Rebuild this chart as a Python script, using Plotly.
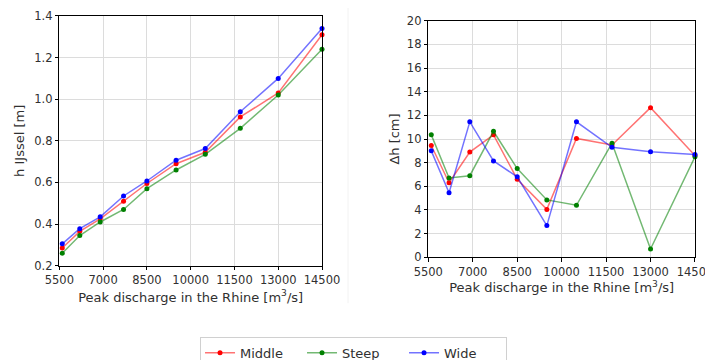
import plotly.graph_objects as go

discharge = [5600, 6200, 6900, 7700, 8500, 9500, 10500, 11700, 13000, 14500]

h_middle = [0.285, 0.365, 0.425, 0.51, 0.595, 0.69, 0.745, 0.915, 1.03, 1.31]
h_steep = [0.26, 0.345, 0.41, 0.47, 0.57, 0.66, 0.735, 0.86, 1.02, 1.24]
h_wide = [0.305, 0.378, 0.435, 0.535, 0.607, 0.707, 0.763, 0.94, 1.10, 1.34]

dh_middle = [9.45, 6.3, 8.9, 10.35, 6.6, 4.05, 10.05, 9.5, 12.65, 8.6]
dh_steep = [10.35, 6.7, 6.9, 10.65, 7.5, 4.85, 4.4, 9.65, 0.7, 8.5]
dh_wide = [9.0, 5.45, 11.45, 8.15, 6.8, 2.68, 11.45, 9.3, 8.92, 8.7]

x_ticks = [5500, 7000, 8500, 10000, 11500, 13000, 14500]
x_ticktext = ["5500", "7000", "8500", "10000", "11500", "13000", "14500"]
series_names = ["Middle", "Steep", "Wide"]
line_colors = ["rgba(255,0,0,0.55)", "rgba(0,128,0,0.55)", "rgba(0,0,255,0.55)"]
marker_colors = ["#ff0000", "#008000", "#0000ff"]

FONT = "DejaVu Sans"
TXT = "#303030"

fig = go.Figure()
left = [h_middle, h_steep, h_wide]
right = [dh_middle, dh_steep, dh_wide]
for i, name in enumerate(series_names):
    fig.add_trace(go.Scatter(
        x=discharge, y=left[i], name=name, mode="lines+markers",
        line=dict(color=line_colors[i], width=1.5),
        marker=dict(color=marker_colors[i], size=5),
        xaxis="x", yaxis="y", legendgroup=name, cliponaxis=False))
for i, name in enumerate(series_names):
    fig.add_trace(go.Scatter(
        x=discharge, y=right[i], name=name, mode="lines+markers",
        line=dict(color=line_colors[i], width=1.5),
        marker=dict(color=marker_colors[i], size=5),
        xaxis="x2", yaxis="y2", legendgroup=name, showlegend=False, cliponaxis=False))

axis_common = dict(
    showline=True, linecolor="#000000", linewidth=1, mirror=True,
    showgrid=True, gridcolor="#dcdcdc", gridwidth=1,
    ticks="outside", ticklen=3.5, tickcolor="#000000",
    zeroline=False, automargin=False,
    tickfont=dict(family=FONT, size=11.5, color=TXT),
)
xtitle = "Peak discharge in the Rhine [m<sup>3</sup>/s]"
tfont = dict(family=FONT, size=13, color=TXT)

fig.update_layout(
    width=713, height=360,
    margin=dict(l=0, r=0, t=0, b=0, autoexpand=False),
    paper_bgcolor="white", plot_bgcolor="white",
    font=dict(family=FONT, size=12, color=TXT),
    xaxis=dict(axis_common, domain=[0.0720, 0.4404], range=[5500, 14500],
               tickvals=x_ticks, ticktext=x_ticktext, anchor="y",
               title=dict(text=xtitle, standoff=6, font=tfont)),
    yaxis=dict(axis_common, domain=[0.2842, 0.9778], range=[0.2, 1.4], dtick=0.2,
               tickformat=".1f", anchor="x",
               title=dict(text="h IJssel [m]", standoff=6, font=tfont)),
    xaxis2=dict(axis_common, domain=[0.5895, 0.9635], range=[5500, 14500],
                tickvals=x_ticks, ticktext=x_ticktext, anchor="y2",
                title=dict(text=xtitle, standoff=3, font=tfont)),
    yaxis2=dict(axis_common, domain=[0.3075, 0.9647], range=[0, 20], dtick=2, anchor="x2",
                title=dict(text="Δh [cm]", standoff=4, font=tfont)),
    legend=dict(orientation="h", x=0.4846, xanchor="center", y=0.087, yanchor="top",
                bordercolor="#d0d0d0", borderwidth=1, bgcolor="white",
                font=dict(family=FONT, size=13, color=TXT),
                itemwidth=30, tracegroupgap=0, entrywidth=57, entrywidthmode="pixels"),
    showlegend=True,
    shapes=[dict(type="line", xref="paper", yref="paper", x0=0.4769, x1=0.4769,
                 y0=0.18, y1=1.0, line=dict(color="#f2f2f2", width=1))],
)

fig.write_html("out.html")
